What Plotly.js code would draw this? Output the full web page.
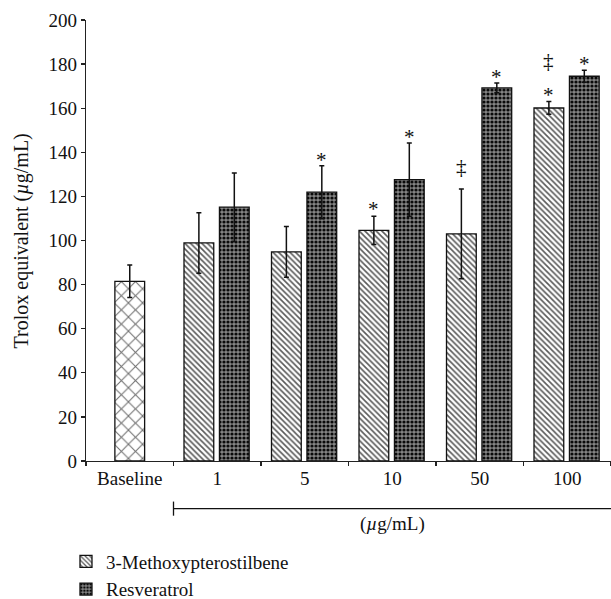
<!DOCTYPE html>
<html>
<head>
<meta charset="utf-8">
<script src="https://cdn.plot.ly/plotly-3.0.1.min.js"></script>
<style>html,body{margin:0;padding:0;background:#fff}#chart{width:611px;height:599px}</style>
</head>
<body>
<div id="chart"></div>
<script>
// ---- data ----
const categories = ['Baseline', '1', '5', '10', '50', '100'];
const baselineCat = ['Baseline'];
const baselineValue = [81.5];
const baselineErr = [7.4];
const doseCats = ['1', '5', '10', '50', '100'];
const methoxyValues = [98.9, 94.8, 104.6, 103.0, 160.1];
const methoxyErr = [13.7, 11.5, 6.4, 20.3, 2.9];
const resValues = [115.1, 121.9, 127.6, 169.2, 174.5];
const resErr = [15.5, 12.0, 16.6, 2.2, 2.7];
const methoxyStar = [false, false, true, false, true];
const methoxyDagger = [false, false, false, true, true];
const resStar = [false, true, true, true, true];
const seriesNames = ['3-Methoxypterostilbene', 'Resveratrol'];
const yTitle = 'Trolox equivalent (<i>µ</i>g/mL)';
const unitLabel = '(<i>µ</i>g/mL)';

const FONT = 'Liberation Serif, Times New Roman, serif';
const FS = 19;
const errStyle = {type: 'data', visible: true, color: '#111', thickness: 1.5, width: 2.5};
const lineStyle = {color: '#111', width: 1.3};

const traces = [
  {
    type: 'bar', x: baselineCat, y: baselineValue, showlegend: false, name: 'Baseline',
    width: 0.34, offset: -0.17,
    error_y: Object.assign({array: baselineErr}, errStyle),
    marker: {color: '#ffffff', line: lineStyle,
      pattern: {shape: 'x', fgcolor: '#707070', bgcolor: '#ffffff', size: 10, solidity: 0.2}}
  },
  {
    type: 'bar', x: doseCats, y: methoxyValues, name: seriesNames[0],
    width: 0.34, offset: -0.38,
    error_y: Object.assign({array: methoxyErr}, errStyle),
    marker: {color: '#ffffff', line: lineStyle,
      pattern: {shape: '\\', fgcolor: '#5a5a5a', bgcolor: '#ffffff', size: 4, solidity: 0.4}}
  },
  {
    type: 'bar', x: doseCats, y: resValues, name: seriesNames[1],
    width: 0.34, offset: 0.025,
    error_y: Object.assign({array: resErr}, errStyle),
    marker: {color: '#6e6e6e', line: lineStyle,
      pattern: {shape: '.', fgcolor: '#0a0a0a', bgcolor: '#858585', size: 4, solidity: 0.5}}
  }
];

const annotations = [];
const catPx = 87.5;
const markFont = {family: FONT, size: 21, color: '#111'};
doseCats.forEach((c, i) => {
  const xi = categories.indexOf(c);
  const mTop = methoxyValues[i] + methoxyErr[i];
  const rTop = resValues[i] + resErr[i];
  const mShift = -0.21 * catPx;
  const rShift = 0.195 * catPx;
  if (methoxyStar[i]) annotations.push({x: xi, y: mTop, xref: 'x', yref: 'y', text: '*', showarrow: false,
    yanchor: 'bottom', xshift: mShift, yshift: -7, font: markFont});
  if (methoxyDagger[i]) annotations.push({x: xi, y: mTop, xref: 'x', yref: 'y', text: '‡', showarrow: false,
    yanchor: 'bottom', xshift: mShift, yshift: methoxyStar[i] ? 27 : 8, font: markFont});
  if (resStar[i]) annotations.push({x: xi, y: rTop, xref: 'x', yref: 'y', text: '*', showarrow: false,
    yanchor: 'bottom', xshift: rShift, yshift: -8, font: markFont});
});
annotations.push({x: 3, y: -0.113, xref: 'x', yref: 'paper', text: unitLabel, showarrow: false,
  yanchor: 'top', font: {family: FONT, size: FS, color: '#111'}});
// y-axis title
annotations.push({x: -0.122, y: 0.5, xref: 'paper', yref: 'paper', text: yTitle, showarrow: false,
  textangle: -90, xanchor: 'center', yanchor: 'middle', font: {family: FONT, size: 20, color: '#111'}});

const shapes = [
  {type: 'line', xref: 'x', yref: 'paper', x0: 0.5, x1: 5.5, y0: -0.108, y1: -0.108, line: {color: '#111', width: 1.3}},
  {type: 'line', xref: 'x', yref: 'paper', x0: 0.5, x1: 0.5, y0: -0.092, y1: -0.124, line: {color: '#111', width: 1.3}}
];

const layout = {
  width: 611, height: 599,
  margin: {l: 86, r: 0, t: 20, b: 137.5, autoexpand: false},
  paper_bgcolor: '#ffffff', plot_bgcolor: '#ffffff',
  font: {family: FONT, size: FS, color: '#111'},
  barmode: 'overlay',
  showlegend: true,
  legend: {xref: 'container', yref: 'container', x: 0.108, y: 0.0943, xanchor: 'left', yanchor: 'top',
    orientation: 'v', font: {family: FONT, size: FS, color: '#111'}, bgcolor: 'rgba(0,0,0,0)', tracegroupgap: 0},
  xaxis: {
    type: 'category', categoryorder: 'array', categoryarray: categories,
    range: [-0.5, 5.5], showline: true, linecolor: '#222', linewidth: 1.3, tickangle: 0,
    ticks: 'outside', tickson: 'boundaries', ticklen: 4, tickcolor: '#222', tickwidth: 1.3,
    showgrid: false, zeroline: false, tickfont: {family: FONT, size: FS, color: '#111'}
  },
  yaxis: {
    range: [0, 200], dtick: 20, showline: true, linecolor: '#222', linewidth: 1.3,
    ticks: 'outside', ticklen: 4, tickcolor: '#222', tickwidth: 1.3,
    showgrid: false, zeroline: false, tickfont: {family: FONT, size: FS, color: '#111'}
  },
  annotations: annotations,
  shapes: shapes
};

Plotly.newPlot('chart', traces, layout, {displayModeBar: false, staticPlot: true});
</script>
</body>
</html>
